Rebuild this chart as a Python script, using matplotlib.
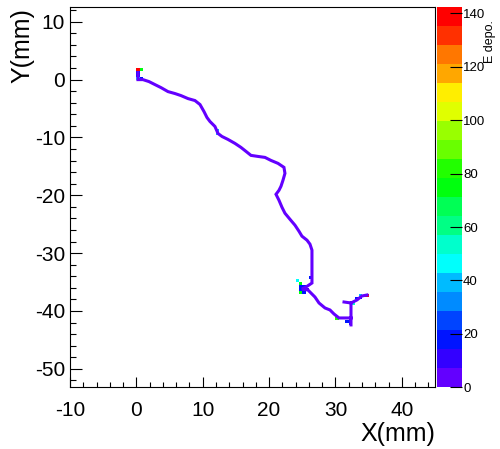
import colorsys
import numpy as np
import matplotlib
matplotlib.use("Agg")
import matplotlib.pyplot as plt
from matplotlib.colors import ListedColormap, BoundaryNorm
from matplotlib.ticker import MultipleLocator

plt.rcParams['font.family'] = ['Liberation Sans', 'DejaVu Sans']
plt.rcParams['axes.unicode_minus'] = False

# track path in mm (nan = break in the line)
track_x = [0.24, 0.24, 0.99, 1.90, 2.80, 3.71, 4.76, 5.82, 6.72, 7.78, 8.83, 9.59,
           10.19, 10.64, 11.09, 11.84, 12.30, 12.90, 13.80, 14.86, 15.76, 16.52,
           17.27, 18.32, 19.38, 20.28, 21.34, 22.24, 22.39, 22.09, 21.79, 21.49,
           21.04, 21.49, 21.94, 22.39, 23.14, 23.90, 24.50, 24.95, 25.71, 26.16,
           26.46, 26.46, 25.56, 24.95, 25.86, 26.91, 27.52, 28.42, 29.18, 29.78,
           30.53, 32.34, 32.34, np.nan,
           32.34, 32.34, 31.29, np.nan,
           32.34, 33.24, 33.99, 34.74]
track_y = [1.21, 0.00, 0.00, -0.34, -0.86, -1.38, -2.07, -2.41, -2.76, -3.28, -3.62, -4.31,
           -5.52, -6.55, -7.24, -8.10, -9.31, -9.83, -10.34, -11.03, -11.72, -12.41,
           -13.10, -13.28, -13.45, -13.97, -14.48, -15.17, -16.21, -17.41, -18.45, -19.14,
           -19.83, -20.86, -22.07, -23.10, -24.14, -25.17, -26.21, -27.07, -27.76, -28.45,
           -29.48, -35.17, -35.86, -36.21, -36.38, -37.59, -38.62, -39.48, -39.83, -40.52,
           -41.21, -41.21, -42.41, np.nan,
           -41.21, -38.62, -38.45, np.nan,
           -38.62, -38.10, -37.41, -37.24]
track_e = 4.0

# cells with a different deposit (mm, mm, E)
cell_x = [0.0, 0.7, 0.2, 0.2, 0.2, 0.7, 12.0, 12.0, 26.3,
          24.4, 24.9, 24.9, 25.4, 24.9, 25.4, 24.9, 25.4, 25.9,
          30.4, 31.8, 32.3, 32.3, 32.7, 33.3, 33.8, 33.5, 34.9]
cell_y = [1.7, 1.7, 1.2, 0.7, 0.2, 0.2, -8.8, -9.3, -34.1,
          -35.0, -35.4, -35.9, -35.9, -36.4, -36.4, -36.9, -36.9, -36.4,
          -41.2, -41.7, -41.7, -42.2, -39.0, -37.7, -37.7, -37.2, -37.3]
cell_e = [136, 78, 16, 16, 46, 18, 38, 40, 17,
          44, 76, 17, 17, 17, 17, 74, 17, 12,
          84, 17, 17, 17, 55, 17, 17, 40, 140]

e_max = 142.3
n_levels = 20

# ROOT pretty palette: 50 hues violet -> red, 20 contour colours taken from it
pretty = [colorsys.hls_to_rgb((280 - (i + 1) * 280 / 50) / 360, 0.5, 1) for i in range(50)]
colors = [pretty[int((j + 0.99) * 50 / n_levels)] for j in range(n_levels)]
cmap = ListedColormap(colors)
levels = np.linspace(0, e_max, n_levels + 1)
norm = BoundaryNorm(levels, cmap.N)

fig = plt.figure(figsize=(5, 4.49), dpi=100)
ax = fig.add_axes([0.14, 0.1374, 0.73, 0.8463])
cax = fig.add_axes([0.8746, 0.1374, 0.0488, 0.8463])

xedges = np.arange(-10, 45.01, 0.5)
yedges = np.arange(-53.5, 12.51, 0.5)
H, _, _ = np.histogram2d(cell_x, cell_y, bins=[xedges, yedges], weights=cell_e)
H = np.ma.masked_equal(H, 0)

ax.plot(track_x, track_y, color=cmap(norm(track_e)), lw=2.2, solid_joinstyle='miter')
mesh = ax.pcolormesh(xedges, yedges, H.T, cmap=cmap, norm=norm)

ax.set_xlim(-10, 45)
ax.set_ylim(-53.2, 12.5)
ax.xaxis.set_major_locator(MultipleLocator(10))
ax.xaxis.set_minor_locator(MultipleLocator(2))
ax.yaxis.set_major_locator(MultipleLocator(10))
ax.yaxis.set_minor_locator(MultipleLocator(2))
ax.tick_params(axis='x', which='major', direction='in', length=7.5, width=0.8, labelsize=15, pad=10)
ax.tick_params(axis='x', which='minor', direction='in', length=3.8, width=0.8)
ax.tick_params(axis='y', which='major', direction='in', length=8.3, width=0.8, labelsize=15, pad=3.6)
ax.tick_params(axis='y', which='minor', direction='in', length=4.2, width=0.8)
for s in ax.spines.values():
    s.set_linewidth(0.8)

fig.text(0.87, 0.033, 'X(mm)', fontsize=18, ha='right', va='center')
fig.text(0.044, 0.982, 'Y(mm)', fontsize=18, ha='center', va='top', rotation=90)

cb = fig.colorbar(mesh, cax=cax, ticks=range(0, 141, 20))
cb.outline.set_visible(False)
cb.minorticks_off()
cax.tick_params(direction='in', length=8.6, width=0.8, labelsize=9.5, pad=1)
fig.text(0.981, 0.955, 'E depo.', fontsize=9, ha='center', va='top', rotation=90)

fig.savefig('out.png', dpi=100)
